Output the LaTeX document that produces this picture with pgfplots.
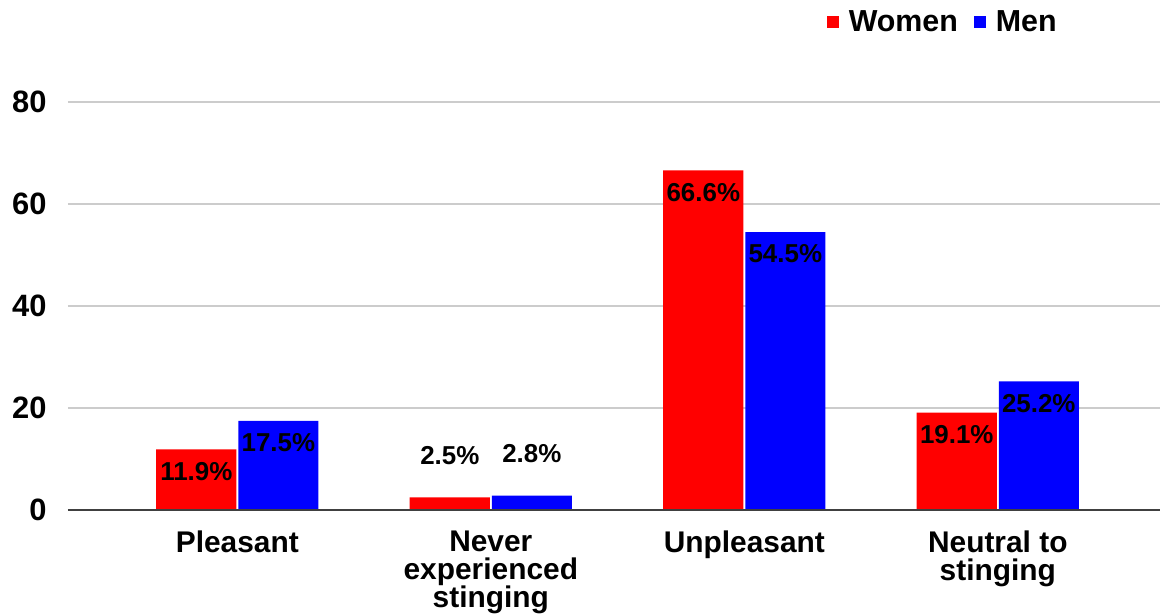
\documentclass[border=0pt]{standalone}
\usepackage{pgfplots}
\pgfplotsset{compat=1.18}
\usepackage{fontspec}
\setmainfont{Liberation Sans}
\begin{document}
\begin{tikzpicture}
\path[use as bounding box] (-68bp,-104bp) rectangle (1094bp,510bp);
\begin{axis}[
  at={(0,0)}, anchor=south west, scale only axis,
  width=1092bp, height=408bp,
  xmin=-0.668, xmax=3.64, ymin=0, ymax=80,
  bar width=0.316,
  axis line style={draw=none},
  major tick length=0pt,
  /pgf/number format/assume math mode=true,
  ytick={0,20,40,60,80},
  ymajorgrids, grid style={black!20, line width=1.3bp},
  xtick={0,1,2,3},
  xticklabels={Pleasant,{Never\\experienced\\stinging},Unpleasant,{Neutral to\\stinging}},
  xticklabel style={font=\fontsize{30}{28.5}\selectfont\bfseries, align=center, anchor=north, yshift=-17bp},
  yticklabel style={font=\fontsize{31}{32}\selectfont\bfseries, anchor=east, xshift=-18bp},
  point meta=explicit symbolic,
  nodes near coords,
  every node near coord/.append style={font=\fontsize{26}{28}\selectfont\bfseries, anchor=center, yshift=-22bp},
  legend style={at={(rel axis cs:0.801,1.196)}, anchor=center, draw=none, fill=none,
    font=\fontsize{30.5}{32}\selectfont\bfseries, legend columns=2,
    /tikz/every odd column/.append style={column sep=8bp},
    /tikz/every even column/.append style={column sep=14bp}},
  legend image code/.code={\path[#1, draw=none] (0bp,-6bp) rectangle (12bp,6bp);},
]
\addplot[ybar, fill=red, draw=none, bar shift=-0.162,
  every node near coord/.append style={xshift=-41bp}] coordinates {(0,11.9) [11.9\%] (1,2.5) [] (2,66.6) [66.6\%] (3,19.1) [19.1\%]};
\addlegendentry{Women}
\addplot[ybar, fill=blue, draw=none, bar shift=0.162,
  every node near coord/.append style={xshift=41bp}] coordinates {(0,17.5) [17.5\%] (1,2.8) [] (2,54.5) [54.5\%] (3,25.2) [25.2\%]};
\addlegendentry{Men}
\addplot[ybar, fill=none, draw=none, bar shift=-0.162, forget plot,
  every node near coord/.append style={yshift=64bp, xshift=-41bp}] coordinates {(1,2.5) [2.5\%]};
\addplot[ybar, fill=none, draw=none, bar shift=0.162, forget plot,
  every node near coord/.append style={yshift=64bp, xshift=41bp}] coordinates {(1,2.8) [2.8\%]};
\draw[black!75, line width=1.3bp] (rel axis cs:0,0) -- (rel axis cs:1,0);
\end{axis}
\end{tikzpicture}
\end{document}
